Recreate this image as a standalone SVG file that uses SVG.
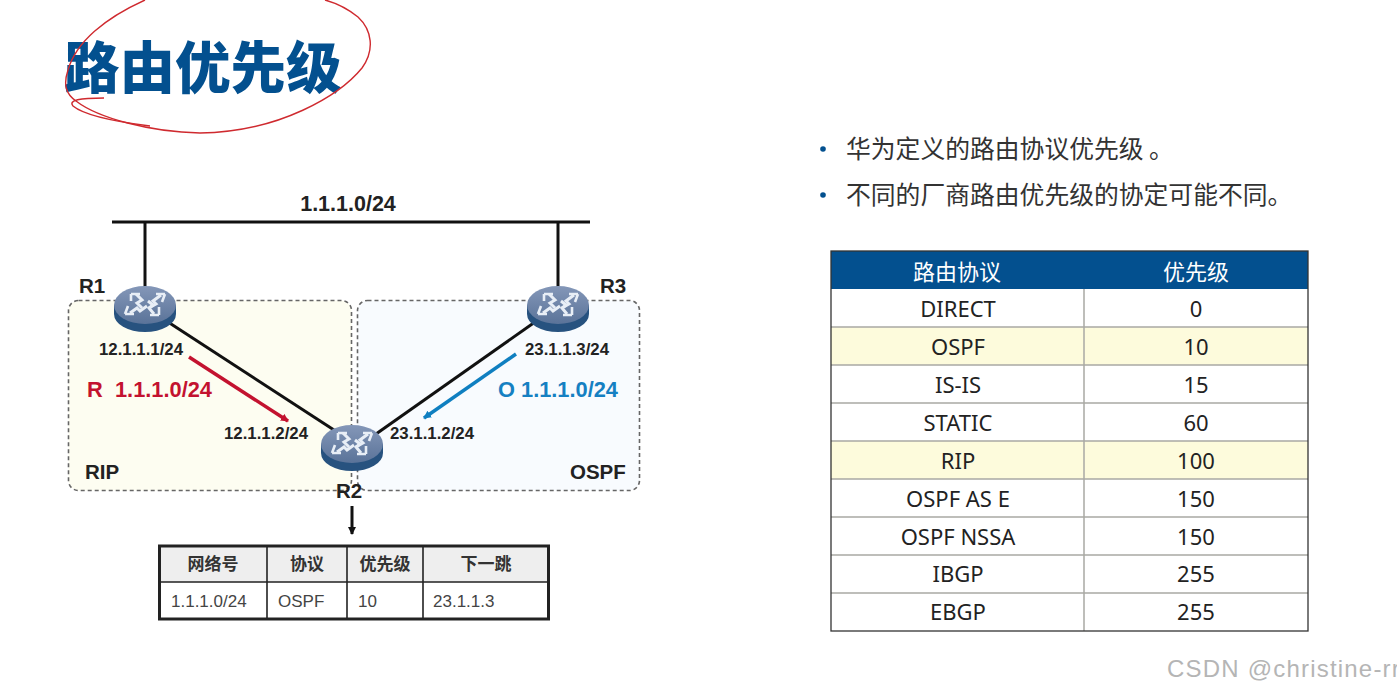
<svg xmlns="http://www.w3.org/2000/svg" width="1397" height="692" viewBox="0 0 1397 692">
<style>
.cjk{font-family:"Noto Sans CJK SC","Noto Sans",sans-serif}
.lat{font-family:"Liberation Sans","Noto Sans CJK SC",sans-serif}
.b{font-weight:700;fill:#222}
.ip{font-size:16.800px}
.lab{font-size:20.500px}
.rt{font-size:21.800px;font-weight:700}
.t{font-family:"Noto Sans","Noto Sans CJK SC",sans-serif;font-size:22px;fill:#222;text-anchor:middle}
.th{font-family:"Noto Sans CJK SC",sans-serif;font-size:22px;fill:#fff;text-anchor:middle}
.rl{stroke:#a9a9a4;stroke-width:1.5}
.zone{stroke:#666;stroke-width:1.6;stroke-dasharray:4 3}
.wire{stroke:#111;stroke-width:3;fill:none}
.sm{font-family:"Liberation Sans","Noto Sans CJK SC",sans-serif;font-size:17px;fill:#444}
.smh{font-family:"Noto Sans CJK SC",sans-serif;font-size:17px;font-weight:700;fill:#333;text-anchor:middle}
</style>
<defs>
<marker id="ah" markerWidth="9" markerHeight="9" refX="7" refY="4" orient="auto" markerUnits="userSpaceOnUse"><path d="M0 0L8 4L0 8z" fill="context-stroke"/></marker>
<linearGradient id="top" x1="0" y1="0" x2="0" y2="1"><stop offset="0" stop-color="#8497b8"/><stop offset="1" stop-color="#5a7399"/></linearGradient>
<g id="router">
<path d="M-31 -4V5A31 18 0 0 0 31 5V-4z" fill="#27527f"/>
<ellipse cx="0" cy="-4" rx="31" ry="19" fill="url(#top)"/>
<g fill="none" stroke="#e8eef6" stroke-width="3">
<path d="M-9 -15L-3 -9L-8 -6L-3 -1"/><path d="M-14 -15H-5M-14 -15V-8" stroke-width="2.600"/>
<path d="M16 -14L8 -8L11 -5L4 -1"/><path d="M20 -15H11M20 -15L17 -7" stroke-width="2.600"/>
<path d="M-15 4L-8 -1L-5 2L2 -3" /><path d="M-20 5H-11M-20 5L-17 -3" stroke-width="2.600"/>
<path d="M9 5L4 -1L8 -4L3 -8"/><path d="M14 6H5M14 6V-2" stroke-width="2.600"/>
</g>
</g>
</defs>
<rect width="1397" height="692" fill="#fff"/>

<g id="title"><text class="cjk" x="64" y="88" font-size="55.500" font-weight="900" fill="#03508f">路由优先级</text></g>
<g id="scribble" fill="none" stroke="#cf2a2f" stroke-width="1.400">
<path d="M145 0C105 18 76 42 68 70C63 85 66 94 76 101C98 118 150 132 200 133C280 132 340 95 362 68C375 50 372 30 358 17C347 8 336 3 325 0"/>
<path d="M150 126C118 122 85 116 73 106C68 100 80 98 104 98"/>
</g>

<g id="zones">
<rect id="zone-rip" class="zone" x="68.500" y="300.500" width="283" height="190" rx="10" fill="#fdfdf1"/>
<rect id="zone-ospf" class="zone" x="357.500" y="300.500" width="282" height="190" rx="10" fill="#f8fbfe"/>
</g>

<g id="connectors">
<path class="wire" d="M112 222H590"/>
<path class="wire" d="M145 222V290"/>
<path class="wire" d="M558 222V290"/>
<path class="wire" d="M168 322L334 430"/>
<path class="wire" d="M535 322L376 434"/>
<path d="M189 357L288 421" fill="none" stroke="#c3122f" stroke-width="3.500" marker-end="url(#ah)"/>
<path d="M516 354L424 418" fill="none" stroke="#0f7fc0" stroke-width="3.500" marker-end="url(#ah)"/>
<path d="M352 506V534" fill="none" stroke="#111" stroke-width="3" marker-end="url(#ah)"/>
</g>

<g id="r1"><use href="#router" x="145" y="309"/><text class="lat b lab" x="79" y="293">R1</text></g>
<g id="r2"><use href="#router" x="352" y="448"/><text class="lat b lab" x="336" y="498">R2</text></g>
<g id="r3"><use href="#router" x="558" y="309"/><text class="lat b lab" x="600" y="293">R3</text></g>

<g id="labels">
<text class="lat b" x="348" y="211" font-size="21.500" text-anchor="middle">1.1.1.0/24</text>
<text class="lat b ip" x="99" y="355">12.1.1.1/24</text>
<text class="lat b ip" x="224" y="439">12.1.1.2/24</text>
<text class="lat b ip" x="525" y="355">23.1.1.3/24</text>
<text class="lat b ip" x="390" y="439">23.1.1.2/24</text>
<text class="lat rt" x="87" y="397" fill="#c3122f">R</text>
<text class="lat rt" x="115" y="397" fill="#c3122f">1.1.1.0/24</text>
<text class="lat rt" x="498" y="397" fill="#1580c2">O 1.1.1.0/24</text>
<text class="lat b lab" x="85" y="479">RIP</text>
<text class="lat b lab" x="570" y="479">OSPF</text>
</g>

<g id="route-table">
<rect x="159.500" y="546" width="389" height="73" fill="#fff"/>
<rect x="159.500" y="546" width="389" height="36" fill="#eeeeee"/>
<path d="M159 582H549M267 546V619M347 546V619M423 546V619" stroke="#222" stroke-width="1.600" fill="none"/>
<rect x="159.500" y="546" width="389" height="73" fill="none" stroke="#222" stroke-width="3"/>
<text class="smh" x="213" y="570">网络号</text>
<text class="smh" x="307" y="570">协议</text>
<text class="smh" x="385" y="570">优先级</text>
<text class="smh" x="486" y="570">下一跳</text>
<text class="sm" x="171" y="607">1.1.1.0/24</text>
<text class="sm" x="278" y="607">OSPF</text>
<text class="sm" x="358" y="607">10</text>
<text class="sm" x="433" y="607">23.1.1.3</text>
</g>

<g id="bullets">
<circle cx="823" cy="149" r="2.800" fill="#03508f"/>
<circle cx="823" cy="195" r="2.800" fill="#03508f"/>
<text class="cjk" x="846" y="158" font-size="24.800" fill="#333">华为定义的路由协议优先级 。</text>
<text class="cjk" x="846" y="204" font-size="24.800" fill="#333">不同的厂商路由优先级的协定可能不同。</text>
</g>

<g id="priority-table">
<rect x="831" y="251" width="477" height="38" fill="#03508f"/>
<rect x="831" y="327" width="477" height="38" fill="#fdfbdc"/>
<rect x="831" y="441" width="477" height="38" fill="#fdfbdc"/>
<path class="rl" d="M831 327H1308M831 365H1308M831 403H1308M831 441H1308M831 479H1308M831 517H1308M831 555H1308M831 593H1308M1084 289V631"/>
<rect x="831" y="251" width="477" height="380" fill="none" stroke="#333" stroke-width="1.300"/>
<text class="th" x="957" y="280">路由协议</text>
<text class="th" x="1196" y="280">优先级</text>
<text class="t" x="958" y="317">DIRECT</text><text class="t" x="1196" y="317">0</text>
<text class="t" x="958" y="355">OSPF</text><text class="t" x="1196" y="355">10</text>
<text class="t" x="958" y="393">IS-IS</text><text class="t" x="1196" y="393">15</text>
<text class="t" x="958" y="431">STATIC</text><text class="t" x="1196" y="431">60</text>
<text class="t" x="958" y="469">RIP</text><text class="t" x="1196" y="469">100</text>
<text class="t" x="958" y="507">OSPF AS E</text><text class="t" x="1196" y="507">150</text>
<text class="t" x="958" y="545">OSPF NSSA</text><text class="t" x="1196" y="545">150</text>
<text class="t" x="958" y="582">IBGP</text><text class="t" x="1196" y="582">255</text>
<text class="t" x="958" y="620">EBGP</text><text class="t" x="1196" y="620">255</text>
</g>

<text class="lat" x="1167" y="677" font-size="24" letter-spacing="1.200" fill="#b5b5b5">CSDN @christine-rr</text>
</svg>
